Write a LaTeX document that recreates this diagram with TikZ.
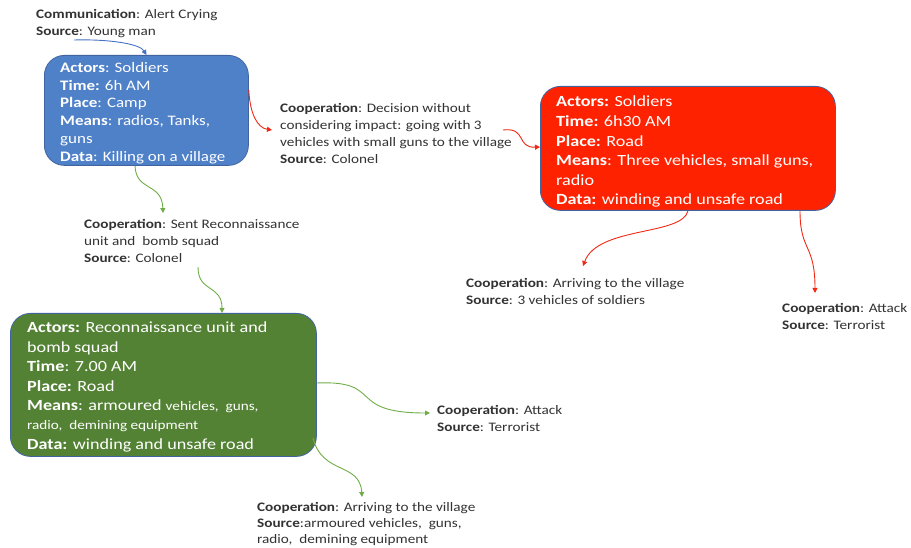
\documentclass[tikz,border=0pt]{standalone}
\usepackage{fontspec}
\setmainfont[FakeStretch=1.17]{Carlito}
\usetikzlibrary{arrows.meta}
\definecolor{bfill}{RGB}{79,129,201}
\definecolor{rfill}{RGB}{255,34,0}
\definecolor{gfill}{RGB}{84,130,53}
\definecolor{bord}{RGB}{65,100,160}
\definecolor{barrow}{RGB}{68,114,196}
\definecolor{rarrow}{RGB}{240,40,20}
\definecolor{garrow}{RGB}{112,173,71}
\definecolor{lbl}{RGB}{50,50,50}
\tikzset{
  box/.style={draw=bord, line width=0.8pt, rounded corners=20pt, anchor=north west, inner sep=0pt},
  boxtext/.style={anchor=north west, inner sep=0pt, align=left, text=white},
  lab/.style={anchor=north west, inner sep=0pt, align=left, text=lbl, font=\fontsize{13}{17}\selectfont},
  conn/.style={line width=0.9pt, -{Triangle[length=5pt,width=5pt]}},
}
\begin{document}
\begin{tikzpicture}[x=1pt,y=-1pt]
\useasboundingbox (0,0) rectangle (911,548);
% boxes
\node[box, fill=bfill, minimum width=204pt, minimum height=110pt] (blue) at (44,55) {};
\node[box, fill=rfill, minimum width=295pt, minimum height=124pt] (red) at (540,86) {};
\node[box, fill=gfill, minimum width=306pt, minimum height=143pt] (green) at (10,313) {};
% box texts
\node[boxtext, font=\fontsize{14.5}{17.8}\selectfont] (bluet) at (60,62) {\textbf{Actors}: Soldiers\\ \textbf{Time:} 6h AM\\ \textbf{Place}: Camp\\ \textbf{Means}: radios, Tanks,\\ guns\\ \textbf{Data}: Killing on a village};
\node[boxtext, font=\fontsize{15.5}{19.6}\selectfont] (redt) at (556,96) {\textbf{Actors:} Soldiers\\ \textbf{Time:} 6h30 AM\\ \textbf{Place:} Road\\ \textbf{Means}: Three vehicles, small guns,\\ radio\\ \textbf{Data:} winding and unsafe road};
\node[boxtext, font=\fontsize{15.5}{19.4}\selectfont] (greent) at (27,322) {\textbf{Actors:} Reconnaissance unit and\\ bomb squad\\ \textbf{Time}: 7.00 AM\\ \textbf{Place:} Road\\ \textbf{Means}: armoured {\fontsize{13}{17}\selectfont vehicles,\ \ guns,}\\ {\fontsize{13}{17}\selectfont radio,\ \ demining equipment}\\ \textbf{Data:} winding and unsafe road};
% labels
\node[lab] (l0) at (36,9) {\textbf{Communication}: Alert Crying\\ \textbf{Source}: Young man};
\node[lab] (l1) at (280,103) {\textbf{Cooperation}: Decision without\\ considering impact: going with 3\\ vehicles with small guns to the village\\ \textbf{Source}: Colonel};
\node[lab] (l2) at (84,219) {\textbf{Cooperation}: Sent Reconnaissance\\ unit and\ \ bomb squad\\ \textbf{Source}: Colonel};
\node[lab] (l3) at (466,278) {\textbf{Cooperation}: Arriving to the village\\ \textbf{Source}: 3 vehicles of soldiers};
\node[lab] (l4) at (782,303) {\textbf{Cooperation}: Attack\\ \textbf{Source}: Terrorist};
\node[lab] (l5) at (437,405) {\textbf{Cooperation}: Attack\\ \textbf{Source}: Terrorist};
\node[lab, font=\fontsize{13}{16.3}\selectfont] (l6) at (257,502) {\textbf{Cooperation}: Arriving to the village\\ \textbf{Source}:armoured vehicles,\ \ guns,\\ radio,\ \ demining equipment};
% free ends
\coordinate (c0) at (74,40);
\coordinate (c1) at (272,130);
\coordinate (c2) at (503,130);
\coordinate (c3) at (163,213);
\coordinate (c4) at (198,267);
\coordinate (c5) at (583,266);
\coordinate (c6) at (815,293);
\coordinate (c7) at (430,413);
\coordinate (c8) at (362,497);
\coordinate (c9) at (313,438);
% connectors
\draw[conn, barrow] (c0) .. controls (110,39) and (140,44) .. (blue.north);
\draw[conn, rarrow] (blue.east |- 0,90) .. controls (250,115) and (258,128) .. (c1);
\draw[conn, rarrow] (c2) .. controls (527,127) and (516,148) .. (red.west |- 0,147);
\draw[conn, garrow] (blue.south -| 135,0) .. controls (136,192) and (162,182) .. (c3);
\draw[conn, garrow] (c4) .. controls (198,293) and (222,284) .. (green.north -| 222,0);
\draw[conn, rarrow] (red.south -| 688,0) .. controls (682,236) and (598,226) .. (c5);
\draw[conn, rarrow] (red.south -| 800,0) .. controls (800,252) and (815,243) .. (c6);
\draw[conn, garrow] (green.east |- 0,383) .. controls (385,380) and (345,413) .. (c7);
\draw[conn, garrow] (c9) .. controls (322,475) and (360,462) .. (c8);
\end{tikzpicture}
\end{document}
